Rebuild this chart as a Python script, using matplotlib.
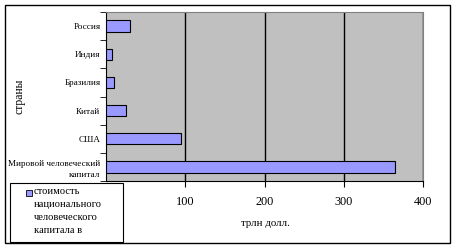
import matplotlib
matplotlib.use('Agg')
import matplotlib.pyplot as plt
from matplotlib.patches import Rectangle
import numpy as np

countries = ['Мировой человеческий\nкапитал', 'США', 'Китай', 'Бразилия', 'Индия', 'Россия']
values = [365, 95, 25, 10, 7, 30]
xticks = [100, 200, 300, 400]
legend_text = 'стоимость\nнационального\nчеловеческого\nкапитала в'

plt.rcParams['font.family'] = ['Liberation Serif', 'DejaVu Serif']
fs = 6.6

fig = plt.figure(figsize=(4.54, 2.48), dpi=100)
fig.patch.set_facecolor('white')
fig.patches.append(Rectangle((5/454, 1-243/248), 445/454, 238/248, transform=fig.transFigure,
                             fill=False, edgecolor='black', linewidth=1.0))

ax = fig.add_axes([106/454, 1-181/248, 317/454, 169/248])
ax.set_facecolor('#c0c0c0')
y = np.arange(len(countries))
ax.barh(y, values, height=0.4, color='#9999ff', edgecolor='black', linewidth=0.8, zorder=3)
ax.set_xlim(0, 400)
ax.set_ylim(-0.5, len(countries) - 0.5)
ax.set_xticks(xticks)
ax.set_xticklabels([str(v) for v in xticks], fontsize=8.8)
ax.xaxis.grid(True, color='black', linewidth=1.0, zorder=1)
ax.set_yticks(y)
ax.set_yticklabels(countries, fontsize=fs, linespacing=1.5)
ax.tick_params(axis='y', length=0, pad=4)
ax.set_yticks(np.arange(-0.5, len(countries)), minor=True)
ax.tick_params(axis='y', which='minor', length=4, direction='out')
ax.tick_params(axis='x', length=4, direction='out', pad=7)
for s in ['top', 'right']:
    ax.spines[s].set_color('#808080')
ax.spines['left'].set_color('black')
ax.spines['bottom'].set_color('black')

fig.text(265/454, 1-223/248, 'трлн долл.', fontsize=7.8, ha='center', va='center')
fig.text(19/454, 1-96/248, 'страны', fontsize=8.4, rotation=90, ha='center', va='center')

# legend box
fig.patches.append(Rectangle((10/454, 1-242/248), 113/454, 59/248, transform=fig.transFigure,
                             fill=False, edgecolor='black', linewidth=0.8))
fig.patches.append(Rectangle((26/454, 1-196/248), 6/454, 6/248, transform=fig.transFigure,
                             facecolor='#9999ff', edgecolor='black', linewidth=0.6))
fig.text(34/454, 1-187/248, legend_text, fontsize=7.6, ha='left', va='top', linespacing=1.55)

fig.savefig('out.png', dpi=100)
